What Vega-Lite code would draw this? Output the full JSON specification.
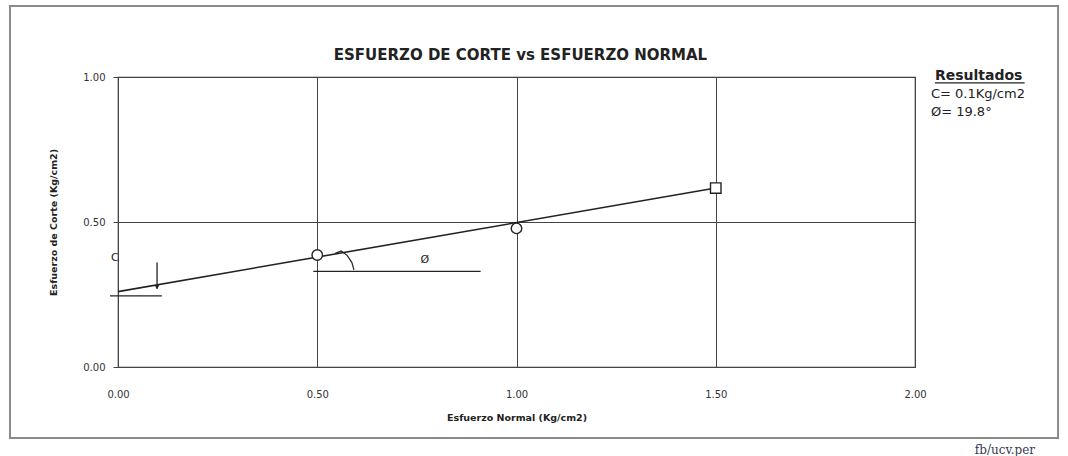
{
  "$schema": "https://vega.github.io/schema/vega-lite/v6.json",
  "width": 797,
  "height": 290,
  "autosize": "none",
  "padding": {"left": 118, "top": 77, "right": 153, "bottom": 89},
  "background": "white",
  "config": {
    "view": {"stroke": "#333", "strokeWidth": 1.2},
    "axis": {"labelFont": "DejaVu Sans", "titleFont": "DejaVu Sans", "labelFontSize": 10, "titleFontSize": 9.5, "labelColor": "#333", "titleColor": "#222", "gridColor": "#444", "gridOpacity": 1, "gridWidth": 1, "tickColor": "#444", "domain": false, "titleFontWeight": "bold", "labelFlush": false}
  },
  "datasets": {
    "pts": [
      {"normal": 0.5, "corte": 0.386, "serie": "a"},
      {"normal": 1.0, "corte": 0.478, "serie": "a"},
      {"normal": 1.5, "corte": 0.617, "serie": "b"}
    ],
    "trend": [
      {"normal": 0.0, "corte": 0.26},
      {"normal": 1.5, "corte": 0.617}
    ],
    "segs": [
      {"x": -0.02, "x2": 0.11, "y": 0.245, "y2": 0.245},
      {"x": 0.49, "x2": 0.91, "y": 0.33, "y2": 0.33},
      {"x": 0.098, "x2": 0.098, "y": 0.36, "y2": 0.27},
      {"x": 2.05, "x2": 2.275, "y": 0.98, "y2": 0.98}
    ],
    "frame": [
      {"x": -0.271, "x2": 2.359, "y": -0.245, "y2": 1.245}
    ],
    "arc": [
      {"normal": 0.545, "corte": 0.392, "o": 1},
      {"normal": 0.56, "corte": 0.40, "o": 2},
      {"normal": 0.575, "corte": 0.385, "o": 3},
      {"normal": 0.587, "corte": 0.36, "o": 4},
      {"normal": 0.592, "corte": 0.335, "o": 5}
    ],
    "arrow": [
      {"normal": 0.098, "corte": 0.275}
    ],
    "labels": [
      {"normal": -0.008, "corte": 0.375, "txt": "C"},
      {"normal": 0.77, "corte": 0.37, "txt": "Ø"}
    ],
    "title": [
      {"normal": 1.01, "corte": 1.076, "txt": "ESFUERZO DE CORTE vs ESFUERZO NORMAL"}
    ],
    "reshead": [
      {"normal": 2.05, "corte": 1.005, "txt": "Resultados"}
    ],
    "res": [
      {"normal": 2.04, "corte": 0.94, "txt": "C=  0.1Kg/cm2"},
      {"normal": 2.04, "corte": 0.88, "txt": "Ø=  19.8°"}
    ],
    "mark": [
      {"normal": 2.15, "corte": -0.285, "txt": "fb/ucv.per"}
    ]
  },
  "layer": [
    {
      "data": {"name": "trend"},
      "mark": {"type": "line", "color": "#222", "strokeWidth": 1.6},
      "encoding": {
        "x": {"field": "normal", "type": "quantitative", "scale": {"domain": [0, 2], "nice": false}, "axis": {"title": "Esfuerzo Normal (Kg/cm2)", "values": [0, 0.5, 1, 1.5, 2], "format": ".2f", "labelPadding": 22, "titlePadding": 13, "tickSize": 0}},
        "y": {"field": "corte", "type": "quantitative", "scale": {"domain": [0, 1], "nice": false}, "axis": {"title": "Esfuerzo de Corte (Kg/cm2)", "values": [0, 0.5, 1], "format": ".2f", "tickSize": 5, "labelPadding": 8, "titlePadding": 24}}
      }
    },
    {
      "data": {"name": "frame"},
      "mark": {"type": "rect", "fill": null, "fillOpacity": 0, "stroke": "#8a8a8a", "strokeWidth": 2, "clip": false},
      "encoding": {
        "x": {"field": "x", "type": "quantitative"},
        "x2": {"field": "x2"},
        "y": {"field": "y", "type": "quantitative"},
        "y2": {"field": "y2"}
      }
    },
    {
      "data": {"name": "segs"},
      "mark": {"type": "rule", "color": "#222", "strokeWidth": 1.3, "clip": false},
      "encoding": {
        "x": {"field": "x", "type": "quantitative"},
        "x2": {"field": "x2"},
        "y": {"field": "y", "type": "quantitative"},
        "y2": {"field": "y2"}
      }
    },
    {
      "data": {"name": "arc"},
      "mark": {"type": "line", "color": "#222", "strokeWidth": 1.2},
      "encoding": {
        "x": {"field": "normal", "type": "quantitative"},
        "y": {"field": "corte", "type": "quantitative"},
        "order": {"field": "o"}
      }
    },
    {
      "data": {"name": "arrow"},
      "mark": {"type": "point", "shape": "triangle-down", "filled": true, "color": "#222", "size": 22, "opacity": 1},
      "encoding": {
        "x": {"field": "normal", "type": "quantitative"},
        "y": {"field": "corte", "type": "quantitative"}
      }
    },
    {
      "data": {"name": "pts"},
      "mark": {"type": "point", "filled": true, "fill": "white", "stroke": "#222", "strokeWidth": 1.4, "opacity": 1},
      "encoding": {
        "x": {"field": "normal", "type": "quantitative"},
        "y": {"field": "corte", "type": "quantitative"},
        "shape": {"field": "serie", "type": "nominal", "scale": {"domain": ["a", "b"], "range": ["circle", "square"]}, "legend": null},
        "size": {"value": 110}
      }
    },
    {
      "data": {"name": "labels"},
      "mark": {"type": "text", "font": "DejaVu Sans", "fontSize": 11, "color": "#222", "align": "center", "baseline": "middle"},
      "encoding": {
        "x": {"field": "normal", "type": "quantitative"},
        "y": {"field": "corte", "type": "quantitative"},
        "text": {"field": "txt"}
      }
    },
    {
      "data": {"name": "title"},
      "mark": {"type": "text", "font": "DejaVu Sans", "fontSize": 15, "fontWeight": "bold", "color": "#222", "align": "center", "baseline": "middle", "clip": false},
      "encoding": {
        "x": {"field": "normal", "type": "quantitative"},
        "y": {"field": "corte", "type": "quantitative"},
        "text": {"field": "txt"}
      }
    },
    {
      "data": {"name": "reshead"},
      "mark": {"type": "text", "font": "DejaVu Sans", "fontSize": 14, "fontWeight": "bold", "color": "#222", "align": "left", "baseline": "middle", "clip": false},
      "encoding": {
        "x": {"field": "normal", "type": "quantitative"},
        "y": {"field": "corte", "type": "quantitative"},
        "text": {"field": "txt"}
      }
    },
    {
      "data": {"name": "res"},
      "mark": {"type": "text", "font": "DejaVu Sans", "fontSize": 13, "color": "#222", "align": "left", "baseline": "middle", "clip": false},
      "encoding": {
        "x": {"field": "normal", "type": "quantitative"},
        "y": {"field": "corte", "type": "quantitative"},
        "text": {"field": "txt"}
      }
    },
    {
      "data": {"name": "mark"},
      "mark": {"type": "text", "font": "DejaVu Serif", "fontSize": 12, "color": "#333a55", "align": "left", "baseline": "middle", "clip": false},
      "encoding": {
        "x": {"field": "normal", "type": "quantitative"},
        "y": {"field": "corte", "type": "quantitative"},
        "text": {"field": "txt"}
      }
    }
  ]
}
